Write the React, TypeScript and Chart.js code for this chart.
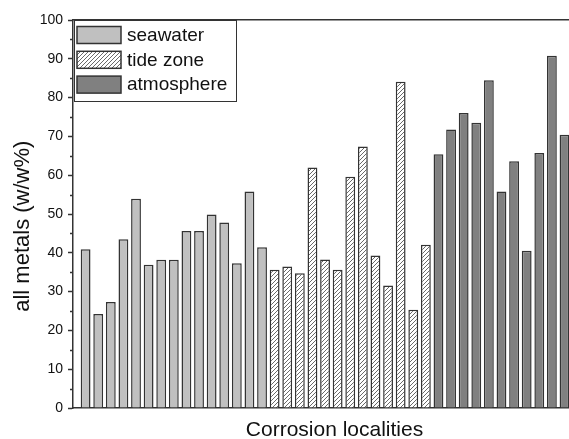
import { useEffect, useRef } from 'react';
import { Chart, registerables } from 'chart.js';

Chart.register(...registerables);

const seriesNames = ['seawater', 'tide zone', 'atmosphere'];
const seawater = [40.9, 24.2, 27.3, 43.5, 53.9, 36.9, 38.2, 38.2, 45.6, 45.6, 49.9, 47.8, 37.3, 55.8, 41.4];
const tideZone = [35.6, 36.5, 34.7, 62.0, 38.3, 35.6, 59.6, 67.4, 39.3, 31.6, 84.1, 25.3, 42.1];
const atmosphere = [65.4, 71.8, 76.0, 73.5, 84.5, 55.8, 63.6, 40.5, 65.7, 90.8, 70.4];
const yMin = 0;
const yMax = 100;
const yStep = 10;
const xTitle = 'Corrosion localities';
const yTitle = 'all metals (w/w%)';

const FONT = '"Liberation Sans", Arial, Helvetica, sans-serif';

function makeHatch(ctx: CanvasRenderingContext2D) {
  const s = 4;
  const c = document.createElement('canvas');
  c.width = s;
  c.height = s;
  const g = c.getContext('2d')!;
  g.fillStyle = '#ffffff';
  g.fillRect(0, 0, s, s);
  g.strokeStyle = '#6a6a6a';
  g.lineWidth = 1;
  g.beginPath();
  g.moveTo(0, s);
  g.lineTo(s, 0);
  g.moveTo(-1, 1);
  g.lineTo(1, -1);
  g.moveTo(s - 1, s + 1);
  g.lineTo(s + 1, s - 1);
  g.stroke();
  return ctx.createPattern(c, 'repeat');
}

const minorTicks = {
  id: 'minorTicks',
  afterDraw(chart: any) {
    const { ctx } = chart;
    const y = chart.scales.y;
    const left = chart.chartArea.left;
    ctx.save();
    ctx.strokeStyle = '#333';
    ctx.lineWidth = 1.5;
    ctx.beginPath();
    for (let v = y.min + yStep / 2; v < y.max; v += yStep) {
      const py = Math.round(y.getPixelForValue(v)) + 0.5;
      ctx.moveTo(left - 3, py);
      ctx.lineTo(left, py);
    }
    ctx.stroke();
    ctx.restore();
  },
};

const boxLegend = {
  id: 'boxLegend',
  afterDraw(chart: any) {
    const { ctx, chartArea } = chart;
    const left = chartArea.left + 1;
    const top = chartArea.top;
    const w = 162;
    const h = 81;
    ctx.save();
    ctx.fillStyle = '#ffffff';
    ctx.fillRect(left, top, w, h);
    ctx.strokeStyle = '#333';
    ctx.lineWidth = 1;
    ctx.strokeRect(left + 0.5, top + 0.5, w, h);
    chart.data.datasets.forEach((ds: any, i: number) => {
      const y = top + 6.5 + i * 24.8;
      ctx.fillStyle = ds.backgroundColor;
      ctx.fillRect(left + 3, y, 44, 17);
      ctx.strokeStyle = ds.borderColor;
      ctx.lineWidth = 1.5;
      ctx.strokeRect(left + 3, y, 44, 17);
      ctx.fillStyle = '#111';
      ctx.font = `19px ${FONT}`;
      ctx.textBaseline = 'middle';
      ctx.textAlign = 'left';
      ctx.fillText(ds.label, left + 53, y + 9);
    });
    ctx.restore();
  },
};

export default function App() {
  const ref = useRef<HTMLCanvasElement>(null);

  useEffect(() => {
    document.body.style.overflow = 'hidden';
    const canvas = ref.current!;
    const ctx = canvas.getContext('2d')!;
    const hatch = makeHatch(ctx);
    Chart.defaults.font.family = FONT;

    const n1 = seawater.length;
    const n2 = tideZone.length;
    const common = {
      borderColor: '#333333',
      borderWidth: 1.5,
      grouped: false,
      barPercentage: 0.78,
      categoryPercentage: 1,
    };

    const chart = new Chart(canvas, {
      type: 'bar',
      data: {
        datasets: [
          {
            ...common,
            label: seriesNames[0],
            data: seawater.map((v, i) => ({ x: i + 1, y: v })),
            backgroundColor: '#c0c0c0',
          },
          {
            ...common,
            label: seriesNames[1],
            data: tideZone.map((v, i) => ({ x: n1 + i + 1, y: v })),
            backgroundColor: hatch as any,
          },
          {
            ...common,
            label: seriesNames[2],
            data: atmosphere.map((v, i) => ({ x: n1 + n2 + i + 1, y: v })),
            backgroundColor: '#808080',
          },
        ] as any,
      },
      options: {
        animation: false,
        responsive: true,
        maintainAspectRatio: false,
        layout: { padding: { top: 20, left: 0, right: 0, bottom: 0 } },
        plugins: { legend: { display: false }, tooltip: { enabled: false } },
        scales: {
          x: {
            type: 'linear',
            position: 'bottom',
            offset: false,
            min: 0,
            max: 41.5,
            ticks: { display: false },
            grid: { display: false },
            border: { display: true, color: '#333', width: 1.5 },
            title: {
              display: true,
              text: xTitle,
              color: '#111',
              font: { size: 21, family: FONT, lineHeight: 0.8 },
              padding: { top: 0, bottom: 0 },
            },
            afterFit: (s: any) => {
              s.height = 31;
            },
          },
          xTop: {
            type: 'linear',
            position: 'top',
            min: 0,
            max: 41.5,
            ticks: { display: false },
            grid: { display: false },
            border: { display: true, color: '#333', width: 1.5 },
            afterFit: (s: any) => {
              s.height = 0;
            },
          },
          y: {
            type: 'linear',
            min: yMin,
            max: yMax,
            ticks: { stepSize: yStep, padding: 5, color: '#111', font: { size: 14, family: FONT } },
            grid: { drawOnChartArea: false, drawTicks: true, tickLength: 5, color: '#333', tickWidth: 1.5 },
            border: { display: true, color: '#333', width: 1.5 },
            title: {
              display: true,
              text: yTitle + '    ',
              color: '#111',
              font: { size: 22, family: FONT, lineHeight: 1 },
              padding: { top: 12, bottom: 0 },
            },
            afterFit: (s: any) => {
              s.width = 73;
            },
          },
        } as any,
      },
      plugins: [minorTicks, boxLegend],
    });
    return () => chart.destroy();
  }, []);

  return (
    <div style={{ position: 'fixed', left: 0, top: 0, width: 596, height: 439, background: '#fff' }}>
      <canvas ref={ref} />
    </div>
  );
}
